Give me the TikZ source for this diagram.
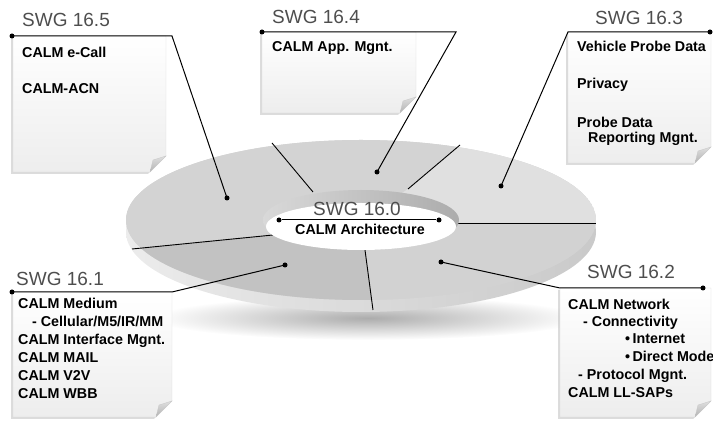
\documentclass[tikz,border=0pt]{standalone}
\usepackage{fontspec}
\setmainfont{Liberation Sans}
\usetikzlibrary{calc}

\definecolor{titlegray}{HTML}{4E4E4E}
\definecolor{secA}{HTML}{D3D3D3}
\definecolor{secB}{HTML}{E0E0E0}
\definecolor{secC}{HTML}{D2D2D2}
\definecolor{secD}{HTML}{C2C2C2}

\tikzset{
  title/.style={anchor=base west, inner sep=0pt, text=titlegray,
    font=\fontsize{19}{21}\selectfont},
  item/.style={anchor=base west, inner sep=0pt,
    font=\fontsize{14.3}{16}\selectfont\bfseries},
  dot/.style={circle, fill=black, inner sep=0pt, minimum size=5pt},
  wire/.style={line width=1pt, black},
  divider/.style={line width=0.9pt, black},
}

% sticky-note sheet with a curled lower-right corner: left, top, right, bottom
\newcommand\notesheet[4]{%
  \fill[gray!50, opacity=.55]
    (#1-2,#2+2) -- (#3-2,#2+2) -- (#3-2,#4+2-16) -- (#3-2-16,#4+2) -- (#1-2,#4+2) -- cycle;
  \shade[top color=white, bottom color=gray!14, draw=gray!30, line width=.4pt]
    (#1,#2) -- (#3,#2) -- (#3,#4-16) -- (#3-16,#4) -- (#1,#4) -- cycle;
  \shade[top color=gray!25, bottom color=gray!60, draw=gray!45, line width=.3pt]
    (#3,#4-16) .. controls (#3-6,#4-14) .. (#3-13,#4-12) -- (#3-16,#4) -- cycle;
}

\begin{document}
\begin{tikzpicture}[x=1pt, y=-1pt]
\useasboundingbox (0,0) rectangle (713,427);

% ---- soft shadow under the disc
\shade[inner color=gray!65, outer color=white] (368,318) ellipse (215 and 22);

% ---- disc rim
\shade[left color=gray!15, middle color=gray!55, right color=gray!42]
  (361,232) ellipse (235 and 80);

% ---- sector geometry
\coordinate (C)  at (361,220);
\coordinate (a1) at (313,192); \coordinate (b1) at (272,143);
\coordinate (a2) at (408,189); \coordinate (b2) at (460,145);
\coordinate (a3) at (457,223); \coordinate (b3) at (596,223);
\coordinate (a4) at (365,250); \coordinate (b4) at (373,310);
\coordinate (a5) at (273,235); \coordinate (b5) at (132,249);
\coordinate (e1) at ($(a1)!3!(b1)$);
\coordinate (e2) at ($(a2)!3!(b2)$);
\coordinate (e3) at ($(a3)!3!(b3)$);
\coordinate (e4) at ($(a4)!3!(b4)$);
\coordinate (e5) at ($(a5)!3!(b5)$);

% ---- top face, one shade per working group
\begin{scope}
  \clip (361,220) ellipse (235 and 80);
  \fill[secA] (361,220) ellipse (235 and 80);
  \fill[secA] (C) -- (a5) -- (e5) -- (-200,0) -- (e1) -- (a1) -- cycle;
  \fill[secA] (C) -- (a1) -- (e1) -- (e2) -- (a2) -- cycle;
  \fill[secB] (C) -- (a2) -- (e2) -- (900,0) -- (e3) -- (a3) -- cycle;
  \fill[secC] (C) -- (a3) -- (e3) -- (900,450) -- (e4) -- (a4) -- cycle;
  \fill[secD] (C) -- (a4) -- (e4) -- (-200,450) -- (e5) -- (a5) -- cycle;
\end{scope}

\draw[divider] (a1) -- (b1);
\draw[divider] (a2) -- (b2);
\draw[divider] (a3) -- (b3);
\draw[divider] (a4) -- (b4);
\draw[divider] (a5) -- (b5);

% ---- centre hole
\shade[left color=gray!30, middle color=gray!50, right color=gray!65]
  (361,220) ellipse (98 and 30);
\fill[white] (361,226.5) ellipse (95 and 23.5);

\node[dot] (h1) at (279,220) {};
\node[dot] (h2) at (439,220) {};
\draw[wire] (h1) -- (h2);
\node[anchor=base, inner sep=0pt, text=titlegray, font=\fontsize{19}{21}\selectfont]
  (t160) at (357,216) {SWG 16.0};
\node[anchor=base, inner sep=0pt, font=\fontsize{14.3}{16}\selectfont\bfseries]
  (arch) at (360,235) {CALM Architecture};

% ---- note sheets
\notesheet{13}{36}{166}{172}
\notesheet{262}{32}{416}{113}
\notesheet{568}{32}{711}{163}
\notesheet{13}{292}{172}{417}
\notesheet{560}{288}{711}{417}

% ---- SWG 16.5
\node[title] (t165) at (22,27) {SWG 16.5};
\node[item] (i165a) at (22,58) {CALM e-Call};
\node[item] (i165b) at (22,94) {CALM-ACN};

% ---- SWG 16.4
\node[title] (t164) at (272,24) {SWG 16.4};
\node[item] (i164a) at (272,52) {CALM App. Mgnt.};

% ---- SWG 16.3
\node[title] (t163) at (595,25) {SWG 16.3};
\node[item] (i163a) at (577,52) {Vehicle Probe Data};
\node[item] (i163b) at (577,89) {Privacy};
\node[item] (i163c) at (577,128) {Probe Data};
\node[item] (i163d) at (588,143) {Reporting Mgnt.};

% ---- SWG 16.1
\node[title] (t161) at (16,286) {SWG 16.1};
\node[item] (i161a) at (18,309) {CALM Medium};
\node[item] (i161b) at (32,327) {- Cellular/M5/IR/MM};
\node[item] (i161c) at (18,345) {CALM Interface Mgnt.};
\node[item] (i161d) at (18,363) {CALM MAIL};
\node[item] (i161e) at (18,381) {CALM V2V};
\node[item] (i161f) at (18,399) {CALM WBB};

% ---- SWG 16.2
\node[title] (t162) at (587,279) {SWG 16.2};
\node[item] (i162a) at (568,310) {CALM Network};
\node[item] (i162b) at (583,327) {- Connectivity};
\node[item] (i162c) at (625,344) {•\,Internet};
\node[item] (i162d) at (625,362) {•\,Direct Mode};
\node[item] (i162e) at (578,380) {- Protocol Mgnt.};
\node[item] (i162f) at (568,398) {CALM LL-SAPs};

% ---- leader lines from each sheet to its sector
\node[dot] (s165) at (12,36) {};   \coordinate (k165) at (172,36);  \node[dot] (p165) at (227,198) {};
\node[dot] (s164) at (262,32) {};  \coordinate (k164) at (456,32);  \node[dot] (p164) at (377,172) {};
\node[dot] (s163) at (710,32) {};  \coordinate (k163) at (568,32);  \node[dot] (p163) at (501,186) {};
\node[dot] (s161) at (12,292) {};  \coordinate (k161) at (172,292); \node[dot] (p161) at (285,265) {};
\node[dot] (s162) at (703,288) {}; \coordinate (k162) at (560,288); \node[dot] (p162) at (441,262) {};

\draw[wire] (s165.center) -- (k165) -- (p165.center);
\draw[wire] (s164.center) -- (k164) -- (p164.center);
\draw[wire] (s163.center) -- (k163) -- (p163.center);
\draw[wire] (s161.center) -- (k161) -- (p161.center);
\draw[wire] (s162.center) -- (k162) -- (p162.center);
\end{tikzpicture}
\end{document}
